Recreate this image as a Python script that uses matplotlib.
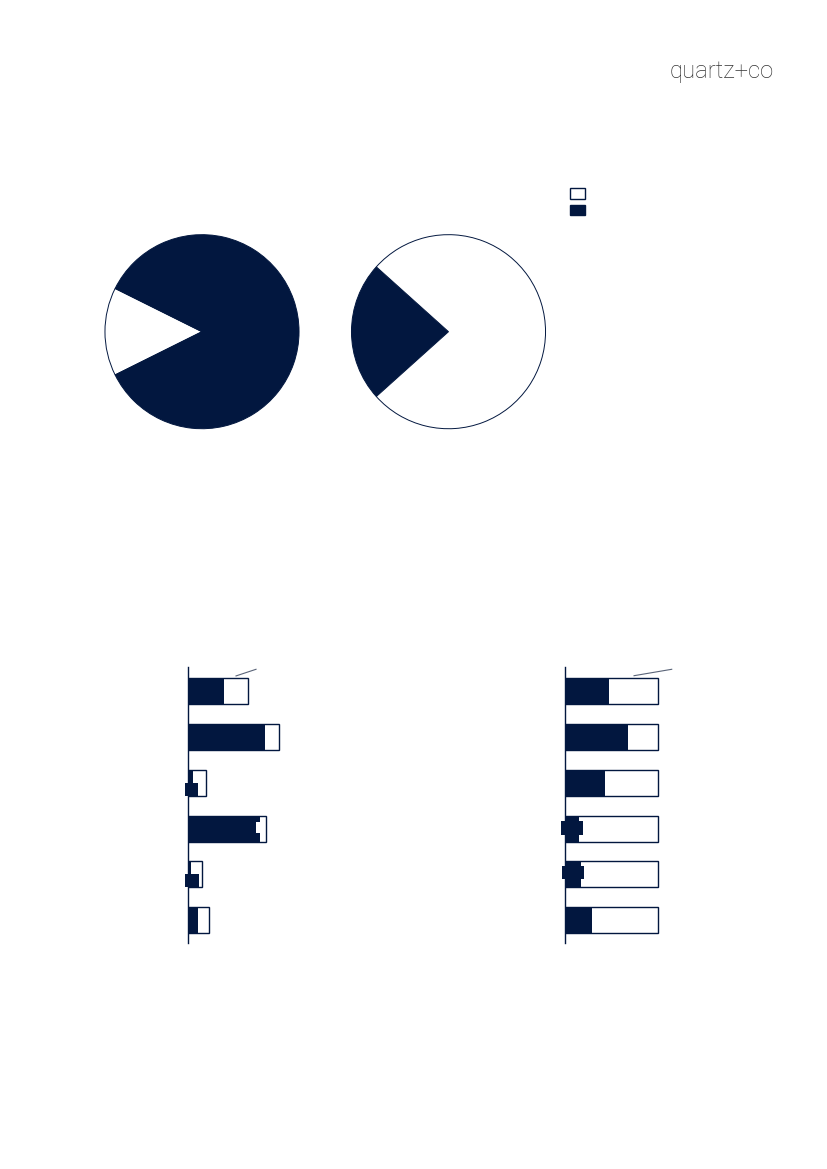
import matplotlib.pyplot as plt
from matplotlib.patches import Patch

navy = '#02173F'
W, H = 827, 1169

# pie shares (dark, white)
pie_left = [85.3, 14.7]
pie_right = [23.3, 76.7]

# bar data, units where 100 = full bar on the right chart
left_total = [64.5, 97.8, 18.5, 84.0, 14.4, 22.6]
left_dark = [38.4, 82.5, 5.4, 77.0, 2.4, 10.1]
right_total = [100, 100, 100, 100, 100, 100]
right_dark = [47, 67, 43, 14.5, 16.5, 28.5]

# small overlapping label boxes (bar index, x0, x1, y0, y1, colour)
left_boxes = [(2, -3.5, 10.7, 0.0, 0.28, navy), (4, -3.5, 11.5, 0.0, 0.28, navy),
              (3, 72.8, 77.0, -0.15, 0.10, 'white')]
right_boxes = [(3, -4.9, 19.4, -0.175, 0.15, navy), (4, -3.9, 20.4, -0.175, 0.11, navy)]

fig = plt.figure(figsize=(W / 100, H / 100), dpi=100)


def px_axes(x, y, w, h):
    return fig.add_axes([x / W, 1 - (y + h) / H, w / W, h / H])


def draw_pie(ax, shares):
    dark, white = shares
    if dark > white:
        start = 180 - white * 3.6 / 2
        vals, cols = [white, dark], ['white', navy]
    else:
        start = 180 - dark * 3.6 / 2
        vals, cols = [dark, white], [navy, 'white']
    ax.pie(vals, colors=cols, startangle=start, counterclock=True,
           wedgeprops=dict(edgecolor=navy, linewidth=0.7))
    ax.set_xlim(-1.01, 1.01)
    ax.set_ylim(-1.01, 1.01)
    ax.set_aspect('equal')


draw_pie(px_axes(104, 233.7, 196, 196), pie_left)
draw_pie(px_axes(350.5, 233.7, 196, 196), pie_right)


def draw_bars(ax, total, dark, boxes, lead):
    pos = list(range(len(total)))
    ax.barh(pos, total, height=0.57, color='white', edgecolor=navy, linewidth=1.0)
    ax.barh(pos, dark, height=0.57, color=navy, linewidth=0)
    for i, x0, x1, y0, y1, c in boxes:
        ax.barh(i + (y0 + y1) / 2, x1 - x0, left=x0, height=y1 - y0, color=c,
                linewidth=0, clip_on=False)
    ax.plot(lead[0], lead[1], color='#5a6478', linewidth=0.8, clip_on=False)
    ax.set_xlim(0, 215)
    ax.set_ylim(5.5, -0.53)
    for s in ['top', 'right', 'bottom']:
        ax.spines[s].set_visible(False)
    ax.spines['left'].set_color(navy)
    ax.spines['left'].set_linewidth(1.0)
    ax.set_xticks([])
    ax.set_yticks([])


draw_bars(px_axes(188.3, 667, 200, 276), left_total, left_dark, left_boxes,
          ([51.3, 72.8], [-0.335, -0.48]))
draw_bars(px_axes(565.3, 667, 200, 276), right_total, right_dark, right_boxes,
          ([73.9, 114.4], [-0.34, -0.48]))

# legend squares
handles = [Patch(facecolor='white', edgecolor=navy, linewidth=1.0),
           Patch(facecolor=navy, edgecolor=navy, linewidth=1.0)]
fig.legend(handles, [' ', ' '], loc='upper left', bbox_to_anchor=(570 / W, 1 - 187 / H),
           frameon=False, fontsize=10, handlelength=1.05, handleheight=0.83,
           handletextpad=0.2, labelspacing=0.2, borderpad=0, borderaxespad=0)

fig.text(774 / W, 1 - 78 / H, 'quartz+co', ha='right', va='baseline',
         fontsize=17.2, color='#333333', family='Roboto', fontweight='light')

fig.savefig('out.png', dpi=100)
